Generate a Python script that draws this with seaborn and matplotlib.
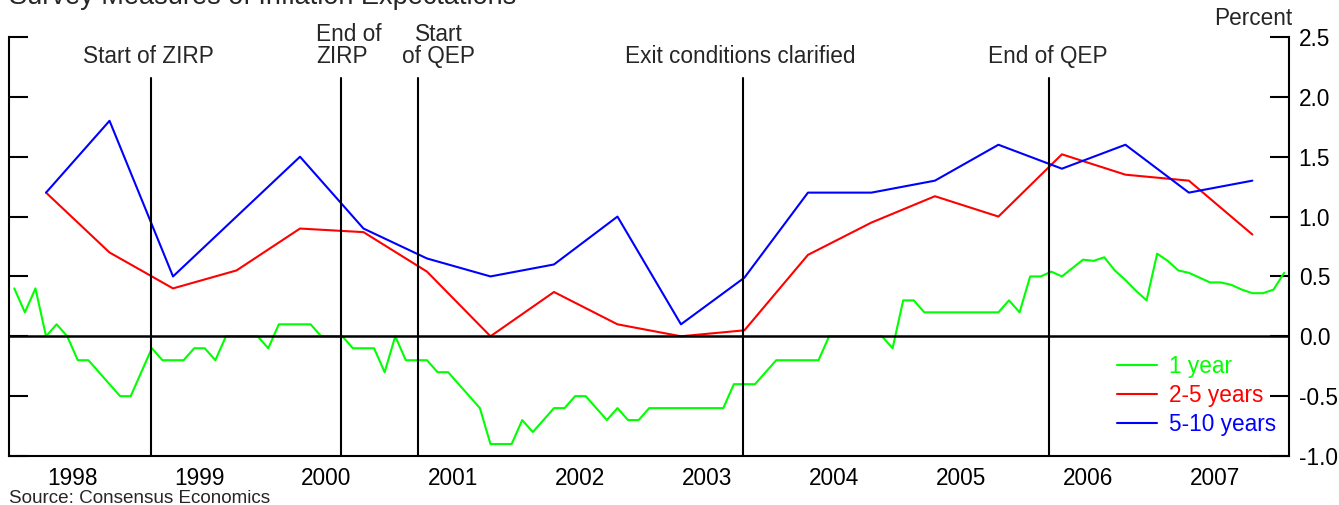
import numpy as np
import pandas as pd
import matplotlib
matplotlib.use("Agg")
import matplotlib.pyplot as plt
import matplotlib.ticker as mticker
import seaborn as sns

# ---------------- data ----------------
# 1-year ahead expectations, monthly, Jan 1998 .. Jan 2008
one_year = [
    0.4, 0.2, 0.4, 0.0, 0.1, 0.0, -0.2, -0.2, -0.3, -0.4, -0.5, -0.5,      # 1998
    -0.3, -0.1, -0.2, -0.2, -0.2, -0.1, -0.1, -0.2, 0.0, 0.0, 0.0, 0.0,    # 1999
    -0.1, 0.1, 0.1, 0.1, 0.1, 0.0, 0.0, 0.0, -0.1, -0.1, -0.1, -0.3,       # 2000
    0.0, -0.2, -0.2, -0.2, -0.3, -0.3, -0.4, -0.5, -0.6, -0.9, -0.9, -0.9, # 2001
    -0.7, -0.8, -0.7, -0.6, -0.6, -0.5, -0.5, -0.6, -0.7, -0.6, -0.7, -0.7,# 2002
    -0.6, -0.6, -0.6, -0.6, -0.6, -0.6, -0.6, -0.6, -0.4, -0.4, -0.4, -0.3,# 2003
    -0.2, -0.2, -0.2, -0.2, -0.2, 0.0, 0.0, 0.0, 0.0, 0.0, 0.0, -0.1,      # 2004
    0.3, 0.3, 0.2, 0.2, 0.2, 0.2, 0.2, 0.2, 0.2, 0.2, 0.3, 0.2,            # 2005
    0.5, 0.5, 0.54, 0.5, 0.57, 0.64, 0.63, 0.66, 0.55, 0.47, 0.38, 0.3,    # 2006
    0.69, 0.63, 0.55, 0.53, 0.49, 0.45, 0.45, 0.43, 0.39, 0.36, 0.36, 0.39,# 2007
    0.53,                                                                   # 2008
]
one_year_months = pd.period_range("1998-01", "2008-01", freq="M")

# 2-5 and 5-10 years ahead, semiannual (April / October surveys)
long_months = pd.period_range("1998-04", "2007-10", freq="6M")
two_five = [1.2, 0.7, 0.4, 0.55, 0.9, 0.87, 0.54, 0.0, 0.37, 0.1,
            0.0, 0.05, 0.68, 0.95, 1.17, 1.0, 1.52, 1.35, 1.3, 0.85]
five_ten = [1.2, 1.8, 0.5, 1.0, 1.5, 0.9, 0.65, 0.5, 0.6, 1.0,
            0.1, 0.49, 1.2, 1.2, 1.3, 1.6, 1.4, 1.6, 1.2, 1.3]

# policy events (decimal year)
event_labels = ["Start of ZIRP", "End of\nZIRP", "Start\nof QEP",
                "Exit conditions clarified", "End of QEP"]
event_dates = [1999.118, 2000.613, 2001.217, 2003.778, 2006.189]

years = list(range(1998, 2008))
series_labels = ["1 year", "2-5 years", "5-10 years"]
series_colors = ["#00ff00", "#ff0000", "#0000ff"]


def to_decimal(periods):
    return np.array([p.year + (p.month - 0.5) / 12 for p in periods])


df_1 = pd.DataFrame({"t": to_decimal(one_year_months), "v": one_year})
df_25 = pd.DataFrame({"t": to_decimal(long_months), "v": two_five})
df_510 = pd.DataFrame({"t": to_decimal(long_months), "v": five_ten})

# ---------------- style ----------------
sns.set_style("white")
plt.rcParams["font.family"] = ["Liberation Sans", "DejaVu Sans"]
FS = 16.3

W, H = 1339, 505
fig = plt.figure(figsize=(W / 100, H / 100), dpi=100)
ax = fig.add_axes([9 / W, 49 / H, 1280 / W, 419 / H])

for df, lab, col in zip([df_1, df_25, df_510], series_labels, series_colors):
    sns.lineplot(data=df, x="t", y="v", ax=ax, color=col, lw=1.5,
                 label=lab, zorder=2)

ax.axhline(0, color="black", lw=1.8, zorder=3)
for d in event_dates:
    ax.axvline(d, ymin=0, ymax=0.902, color="black", lw=1.5, zorder=3)

# event annotations (pixel offsets from each event line)
offsets = [-3, 8, 21, -2.5, -1]
aligns = ["center", "left", "center", "center", "center"]
for lab, d, off, al in zip(event_labels, event_dates, offsets, aligns):
    ax.annotate(lab, xy=(d, H - 63), xycoords=("data", "figure pixels"),
                xytext=(off, 0), textcoords="offset pixels",
                ha="center", va="baseline", fontsize=FS, multialignment=al,
                linespacing=0.95, annotation_clip=False)

ax.set_xlim(1998.0, 2008.08)
ax.set_ylim(-1.0, 2.5)

# x axis: year boundaries as ticks, labels centred in years
ax.set_xticks(list(range(1998, 2009)))
ax.set_xticks([y + 0.5 for y in years], minor=True)
ax.set_xticklabels([str(y) for y in years], minor=True, fontsize=FS)
ax.tick_params(axis="x", which="major", direction="in", length=13.7,
               width=1.5, color="black", labelbottom=False)
ax.tick_params(axis="x", which="minor", length=0, pad=8, labelsize=FS,
               colors="black")

ax.set_yticks(np.arange(-1.0, 2.51, 0.5))
ax.yaxis.set_major_formatter(mticker.FormatStrFormatter("%.1f"))
ax.tick_params(axis="y", which="major", direction="in", length=13.7, width=1.5,
               left=True, right=True, labelleft=False, labelright=True,
               labelsize=FS, pad=7, colors="black")
ax.set_yticks([2.5], minor=True)
ax.tick_params(axis="y", which="minor", direction="in", length=27.4, width=1.5,
               left=True, right=True, labelleft=False, labelright=False)

for s in ["left", "right", "bottom"]:
    ax.spines[s].set_visible(True)
    ax.spines[s].set_color("black")
    ax.spines[s].set_linewidth(1.5)
ax.spines["top"].set_visible(False)
ax.set_xlabel("")
ax.set_ylabel("")

leg = ax.legend(loc="upper left", bbox_to_anchor=(1117 / W, 1 - 355 / H),
                bbox_transform=fig.transFigure, frameon=False, fontsize=FS,
                handlelength=1.75, handletextpad=0.55, labelspacing=0.27,
                borderpad=0, borderaxespad=0)
for txt, col in zip(leg.get_texts(), series_colors):
    txt.set_color(col)
for ln in leg.get_lines():
    ln.set_linewidth(1.5)

fig.text(1292 / W, 1 - 25 / H, "Percent", ha="right", va="baseline", fontsize=FS)
fig.text(9 / W, 1 - 4 / H, "Survey Measures of Inflation Expectations",
         ha="left", va="baseline", fontsize=19.5)
fig.text(9 / W, 1 - 503 / H, "Source: Consensus Economics", ha="left",
         va="baseline", fontsize=13.6)

fig.savefig("out.png", dpi=100)
